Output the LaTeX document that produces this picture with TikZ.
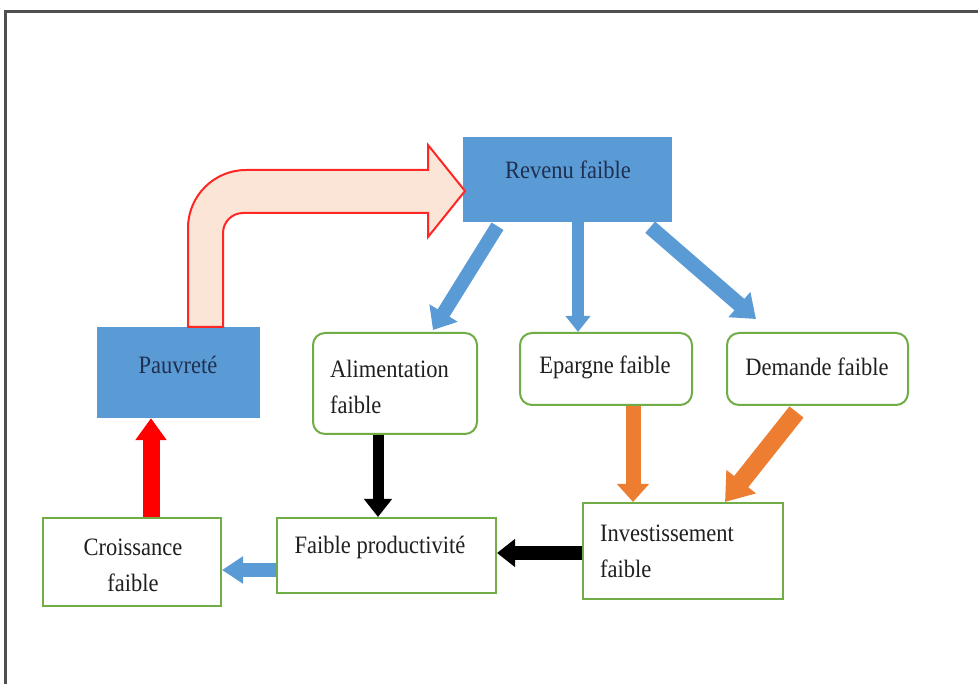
\documentclass[tikz,border=0pt]{standalone}
\usepackage{fontspec}
\setmainfont[FakeStretch=0.9]{Liberation Serif}
\usetikzlibrary{arrows.meta,calc}
\definecolor{oblue}{HTML}{5B9BD5}
\definecolor{ogreen}{HTML}{70AD47}
\definecolor{oorange}{HTML}{ED7D31}
\definecolor{peach}{HTML}{FBE5D6}
\definecolor{framegray}{HTML}{505050}
\definecolor{navytext}{HTML}{1F2F4F}
\tikzset{
  bluebox/.style={fill=oblue, draw=none, inner sep=0pt},
  greenround/.style={draw=ogreen, line width=2pt, rounded corners=12pt, fill=white, inner sep=0pt},
  greenbox/.style={draw=ogreen, line width=2pt, fill=white, inner sep=0pt},
  txt/.style={font=\fontsize{25}{36}\selectfont, inner sep=0pt, text=black!88},
  bluetxt/.style={txt, text=navytext},
  blockarr/.style n args={4}{draw=#1, line width=#2, -{Triangle[width=#3,length=#4]}},
}
\begin{document}
\begin{tikzpicture}[x=1pt,y=-1pt]
\useasboundingbox (0,0) rectangle (978,684);
\draw[framegray, line width=3pt] (5.5,684) -- (5.5,11.5) -- (978,11.5);

% boxes
\node[bluebox, minimum width=209pt, minimum height=85pt] (rev) at (567.5,179.5) {};
\node[bluebox, minimum width=163pt, minimum height=91pt] (pauv) at (178.5,372.5) {};
\node[greenround, minimum width=164pt, minimum height=101pt] (alim) at (395,383.5) {};
\node[greenround, minimum width=172pt, minimum height=72pt] (epar) at (606,369) {};
\node[greenround, minimum width=181pt, minimum height=72pt] (dem) at (817.5,369) {};
\node[greenbox, minimum width=178pt, minimum height=88pt] (crois) at (132,562) {};
\node[greenbox, minimum width=219pt, minimum height=75pt] (prod) at (386.5,555.5) {};
\node[greenbox, minimum width=200pt, minimum height=96pt] (inv) at (683,551) {};

% texts
\node[bluetxt] (revt) at (568,170) {Revenu faible};
\node[bluetxt] (pauvt) at (178,365) {Pauvreté};
\node[txt, anchor=west, align=left] (alimt) at (330,387) {Alimentation\\faible};
\node[txt] (epart) at (605,367) {Epargne faible};
\node[txt] (demt) at (817,367) {Demande faible};
\node[txt, align=center] (croist) at (133,565) {Croissance\\faible};
\node[txt] (prodt) at (380,547) {Faible productivité};
\node[txt, anchor=west, align=left] (invt) at (600,551) {Investissement\\faible};

% red bent arrow from Pauvrete to Revenu faible
\filldraw[fill=peach, draw=red!85!white, line width=2pt, line join=miter]
  (188,327) -- (188,228) .. controls (188,196) and (214,170) .. (246,170)
  -- (428,170) -- (428,145) -- (465,191) -- (428,237) -- (428,213)
  -- (243,213) .. controls (232,213) and (223,222) .. (223,233) -- (223,327) -- cycle;

% blue arrows from Revenu faible
\coordinate (bl1) at ($(rev.south)+(-70,4)$);
\coordinate (bl2) at ($(alim.north)+(38,-2)$);
\draw[blockarr={oblue}{14pt}{32pt}{20pt}] (bl1) -- (bl2);
\coordinate (m1) at ($(rev.south)+(10.5,0)$);
\draw[blockarr={oblue}{12pt}{24pt}{16pt}] (m1) -- (m1 |- epar.north);
\coordinate (br1) at ($(rev.south east)+(-22,5)$);
\coordinate (br2) at ($(dem.north west)+(30,-13)$);
\draw[blockarr={oblue}{15pt}{32pt}{22pt}] (br1) -- (br2);

% orange arrows
\coordinate (o1) at ($(epar.south)+(27,0)$);
\draw[blockarr={oorange}{15pt}{31pt}{18pt}] (o1) -- (o1 |- inv.north);
\coordinate (o2) at ($(dem.south)+(-21,6)$);
\coordinate (o3) at ($(inv.north east)+(-59,0)$);
\draw[blockarr={oorange}{18pt}{36pt}{26pt}] (o2) -- (o3);

% black arrows
\coordinate (b1) at ($(alim.south)+(-17,0)$);
\draw[blockarr={black}{11pt}{27pt}{18pt}] (b1) -- (b1 |- prod.north);
\coordinate (b2) at ($(inv.west)+(0,2)$);
\draw[blockarr={black}{13pt}{27pt}{18pt}] (b2) -- (b2 -| prod.east);

% red arrow up
\coordinate (r1) at ($(crois.north)+(19,0)$);
\draw[blockarr={red}{17pt}{30pt}{22pt}] (r1) -- (r1 |- pauv.south);

% blue arrow left
\coordinate (h1) at ($(prod.west)+(0,14.5)$);
\draw[blockarr={oblue}{14pt}{26pt}{21pt}] (h1) -- (h1 -| crois.east);
\end{tikzpicture}
\end{document}
